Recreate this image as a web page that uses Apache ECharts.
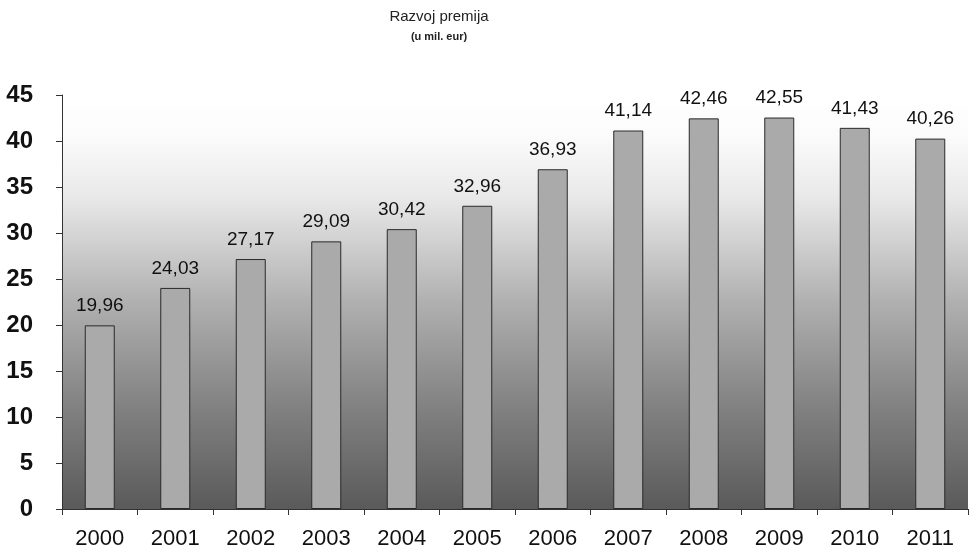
<!DOCTYPE html>
<html>
<head>
<meta charset="utf-8">
<script src="https://cdn.jsdelivr.net/npm/echarts@6/dist/echarts.min.js"></script>
<style>
html,body{margin:0;padding:0;background:#fff;}
#chart{width:970px;height:552px;}
</style>
</head>
<body>
<div id="chart"></div>
<script>
const categories = ['2000','2001','2002','2003','2004','2005','2006','2007','2008','2009','2010','2011'];
const premiums = [19.96, 24.03, 27.17, 29.09, 30.42, 32.96, 36.93, 41.14, 42.46, 42.55, 41.43, 40.26];
const titleText = 'Razvoj premija';
const subtitleText = '(u mil. eur)';

const chart = echarts.init(document.getElementById('chart'));
chart.setOption({
  animation: false,
  backgroundColor: '#ffffff',
  title: {
    text: titleText,
    subtext: subtitleText,
    left: 434,
    top: 4,
    textAlign: 'center',
    itemGap: 7,
    textStyle: {fontFamily: 'Liberation Sans', fontSize: 15, fontWeight: 'normal', color: '#222'},
    subtextStyle: {fontFamily: 'Liberation Sans', fontSize: 11, fontWeight: 'bold', color: '#222'}
  },
  grid: {
    left: 62, right: 2, top: 95, bottom: 43,
    show: true,
    borderWidth: 0,
    backgroundColor: new echarts.graphic.LinearGradient(0, 0, 0, 1, [
      {offset: 0, color: '#ffffff'},
      {offset: 0.1, color: '#fbfbfb'},
      {offset: 0.25, color: '#e8e8e8'},
      {offset: 0.5, color: '#b0b0b0'},
      {offset: 0.75, color: '#828282'},
      {offset: 1, color: '#5a5a5a'}
    ])
  },
  xAxis: {
    type: 'category',
    data: categories,
    boundaryGap: true,
    axisLine: {lineStyle: {color: '#333', width: 1}},
    axisTick: {show: true, length: 6, alignWithLabel: false, lineStyle: {color: '#333'}},
    axisLabel: {fontFamily: 'Liberation Sans', fontSize: 22, color: '#111', margin: 19}
  },
  yAxis: {
    type: 'value',
    min: 0, max: 45, interval: 5,
    splitLine: {show: false},
    axisLine: {show: true, lineStyle: {color: '#333', width: 1}},
    axisTick: {show: true, length: 6, lineStyle: {color: '#333'}},
    axisLabel: {fontFamily: 'Liberation Sans', fontSize: 24, fontWeight: 'bold', color: '#111', margin: 29}
  },
  series: [{
    type: 'bar',
    data: premiums,
    barWidth: 30,
    itemStyle: {color: '#aaaaaa', borderColor: '#2a2a2a', borderWidth: 1},
    label: {
      show: true,
      position: 'top',
      distance: 10,
      fontFamily: 'Liberation Sans',
      fontSize: 19,
      color: '#111',
      formatter: p => p.value.toFixed(2).replace('.', ',')
    }
  }]
});
</script>
</body>
</html>
